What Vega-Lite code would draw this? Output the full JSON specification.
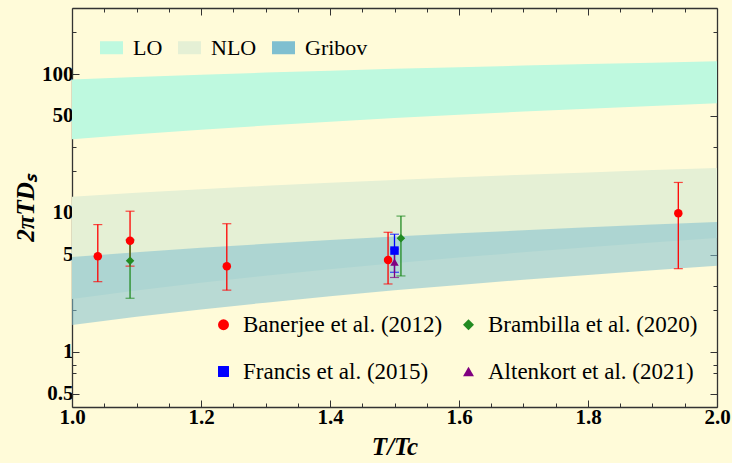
{
  "$schema": "https://vega.github.io/schema/vega-lite/v6.json",
  "width": 645,
  "height": 399,
  "autosize": {"type": "none"},
  "padding": {"left": 72, "top": 8, "right": 15, "bottom": 56},
  "background": "#fffbd9",
  "config": {
    "view": {"stroke": null},
    "font": "Liberation Serif",
    "legend": {"labelFont": "Liberation Serif", "labelColor": "#000", "labelLimit": 400}
  },
  "datasets": {
    "bands": [
      {"band": "LO", "T": 1.0, "lo": 34.0, "hi": 91.6},
      {"band": "LO", "T": 1.1, "lo": 36.9, "hi": 95.5},
      {"band": "LO", "T": 1.2, "lo": 39.8, "hi": 99.2},
      {"band": "LO", "T": 1.3, "lo": 42.7, "hi": 102.7},
      {"band": "LO", "T": 1.4, "lo": 45.5, "hi": 106.1},
      {"band": "LO", "T": 1.5, "lo": 48.3, "hi": 109.3},
      {"band": "LO", "T": 1.6, "lo": 51.0, "hi": 112.4},
      {"band": "LO", "T": 1.7, "lo": 53.8, "hi": 115.4},
      {"band": "LO", "T": 1.8, "lo": 56.4, "hi": 118.4},
      {"band": "LO", "T": 1.9, "lo": 59.1, "hi": 121.2},
      {"band": "LO", "T": 2.0, "lo": 61.8, "hi": 123.9},
      {"band": "NLO", "T": 1.0, "lo": 2.40, "hi": 13.1},
      {"band": "NLO", "T": 1.1, "lo": 2.76, "hi": 14.0},
      {"band": "NLO", "T": 1.2, "lo": 3.14, "hi": 14.8},
      {"band": "NLO", "T": 1.3, "lo": 3.53, "hi": 15.7},
      {"band": "NLO", "T": 1.4, "lo": 3.93, "hi": 16.5},
      {"band": "NLO", "T": 1.5, "lo": 4.34, "hi": 17.3},
      {"band": "NLO", "T": 1.6, "lo": 4.77, "hi": 18.1},
      {"band": "NLO", "T": 1.7, "lo": 5.21, "hi": 18.9},
      {"band": "NLO", "T": 1.8, "lo": 5.67, "hi": 19.6},
      {"band": "NLO", "T": 1.9, "lo": 6.13, "hi": 20.4},
      {"band": "NLO", "T": 2.0, "lo": 6.61, "hi": 21.1},
      {"band": "Gribov", "T": 1.0, "lo": 1.56, "hi": 4.82},
      {"band": "Gribov", "T": 1.1, "lo": 1.79, "hi": 5.22},
      {"band": "Gribov", "T": 1.2, "lo": 2.02, "hi": 5.61},
      {"band": "Gribov", "T": 1.3, "lo": 2.26, "hi": 6.00},
      {"band": "Gribov", "T": 1.4, "lo": 2.51, "hi": 6.39},
      {"band": "Gribov", "T": 1.5, "lo": 2.77, "hi": 6.77},
      {"band": "Gribov", "T": 1.6, "lo": 3.03, "hi": 7.14},
      {"band": "Gribov", "T": 1.7, "lo": 3.31, "hi": 7.51},
      {"band": "Gribov", "T": 1.8, "lo": 3.58, "hi": 7.88},
      {"band": "Gribov", "T": 1.9, "lo": 3.87, "hi": 8.25},
      {"band": "Gribov", "T": 2.0, "lo": 4.16, "hi": 8.61}
    ],
    "points": [
      {"study": "Banerjee et al. (2012)", "T": 1.04, "D": 4.87, "lo": 3.2, "hi": 8.25},
      {"study": "Banerjee et al. (2012)", "T": 1.09, "D": 6.32, "lo": 4.14, "hi": 10.3},
      {"study": "Banerjee et al. (2012)", "T": 1.24, "D": 4.14, "lo": 2.78, "hi": 8.37},
      {"study": "Banerjee et al. (2012)", "T": 1.49, "D": 4.59, "lo": 3.08, "hi": 7.26},
      {"study": "Banerjee et al. (2012)", "T": 1.94, "D": 9.95, "lo": 3.97, "hi": 16.6},
      {"study": "Brambilla et al. (2020)", "T": 1.09, "D": 4.52, "lo": 2.43, "hi": 6.4},
      {"study": "Brambilla et al. (2020)", "T": 1.51, "D": 6.57, "lo": 3.52, "hi": 9.5},
      {"study": "Francis et al. (2015)", "T": 1.50, "D": 5.36, "lo": 3.74, "hi": 7.03},
      {"study": "Altenkort et al. (2021)", "T": 1.50, "D": 4.43, "lo": 3.43, "hi": 5.5}
    ]
  },
  "resolve": {"axis": {"x": "independent", "y": "independent"}},
  "layer": [
    {
      "data": {"name": "bands"},
      "mark": {"type": "area", "strokeWidth": 0},
      "encoding": {
        "x": {
          "field": "T", "type": "quantitative",
          "scale": {"domain": [1, 2], "nice": false, "zero": false},
          "axis": {
            "orient": "bottom",
            "values": [1, 1.05, 1.1, 1.15, 1.2, 1.25, 1.3, 1.35, 1.4, 1.45, 1.5, 1.55, 1.6, 1.65, 1.7, 1.75, 1.8, 1.85, 1.9, 1.95, 2],
            "labelExpr": "abs(datum.value*5-round(datum.value*5))<0.001 ? format(datum.value,'.1f') : ''",
            "tickSize": {"condition": {"test": "abs(datum.value*5-round(datum.value*5))<0.001", "value": -7}, "value": -4},
            "labelFont": "Liberation Serif", "labelFontWeight": "bold", "labelFontSize": 21, "labelColor": "#000",
            "labelPadding": 6, "labelFlush": false, "labelOverlap": false,
            "domainColor": "#333", "domainWidth": 1.3, "tickColor": "#333", "tickWidth": 1, "grid": false,
            "title": "T/Tc", "titleFont": "Liberation Serif", "titleFontStyle": "italic", "titleFontWeight": "bold",
            "titleFontSize": 25, "titleColor": "#000", "titlePadding": 4
          }
        },
        "y": {
          "field": "lo", "type": "quantitative",
          "scale": {"type": "log", "domain": [0.4, 300], "nice": false},
          "axis": {
            "orient": "left",
            "values": [0.5, 0.7, 0.8, 1, 2, 3, 5, 7, 8, 10, 20, 30, 50, 70, 80, 100, 200],
            "labelExpr": "indexof([0.5,1,5,10,50,100], datum.value) >= 0 ? '' + datum.value : ''",
            "tickSize": {"condition": {"test": "indexof([0.5,1,5,10,50,100], datum.value) >= 0", "value": -7}, "value": -4},
            "labelFont": "Liberation Serif", "labelFontWeight": "bold", "labelFontSize": 21, "labelColor": "#000",
            "labelPadding": 6, "labelOverlap": false, "labelFlush": false,
            "domainColor": "#333", "domainWidth": 1.3, "tickColor": "#333", "tickWidth": 1, "grid": false,
            "title": "2πTDₛ", "titleFont": "Liberation Serif", "titleFontStyle": "italic", "titleFontWeight": "bold",
            "titleFontSize": 25, "titleColor": "#000", "titlePadding": 3
          }
        },
        "y2": {"field": "hi"},
        "fill": {
          "field": "band", "type": "nominal",
          "scale": {"domain": ["LO", "NLO", "Gribov"], "range": ["#bef9df", "#e5f0d5", "#7fbfd0"]},
          "legend": {
            "orient": "none", "legendX": 28, "legendY": 28, "direction": "horizontal", "title": null,
            "symbolType": "M-1,-0.565H1V0.565H-1Z", "symbolSize": 529, "symbolStrokeWidth": 0, "symbolOpacity": 1,
            "labelFont": "Liberation Serif", "labelFontSize": 22, "labelColor": "#000", "labelOffset": 10,
            "columnPadding": 15, "padding": 0
          }
        },
        "opacity": {"condition": {"test": "datum.band === 'Gribov'", "value": 0.55}, "value": 1}
      }
    },
    {
      "data": {"name": "points"},
      "mark": {"type": "errorbar", "ticks": {"size": 9, "thickness": 1.2}, "thickness": 1.3},
      "encoding": {
        "x": {"field": "T", "type": "quantitative", "axis": null},
        "y": {"field": "lo", "type": "quantitative", "axis": null},
        "y2": {"field": "hi"},
        "color": {
          "field": "study", "type": "nominal",
          "scale": {"domain": ["Banerjee et al. (2012)", "Francis et al. (2015)", "Brambilla et al. (2020)", "Altenkort et al. (2021)"], "range": ["#ff0000", "#0000ff", "#228b22", "#800080"]},
          "legend": {
            "orient": "none", "legendX": 140, "legendY": 305, "columns": 2, "title": null,
            "labelFont": "Liberation Serif", "labelFontSize": 23, "labelColor": "#000", "labelOffset": 8, "labelLimit": 400,
            "symbolSize": 120, "symbolStrokeWidth": 0, "symbolOpacity": 1,
            "columnPadding": 14, "rowPadding": 23, "padding": 0
          }
        }
      }
    },
    {
      "data": {"name": "points"},
      "mark": {"type": "point", "filled": true, "opacity": 1, "size": 72},
      "encoding": {
        "x": {
          "field": "T", "type": "quantitative",
          "axis": {
            "orient": "top",
            "values": [1, 1.05, 1.1, 1.15, 1.2, 1.25, 1.3, 1.35, 1.4, 1.45, 1.5, 1.55, 1.6, 1.65, 1.7, 1.75, 1.8, 1.85, 1.9, 1.95, 2],
            "labels": false,
            "tickSize": {"condition": {"test": "abs(datum.value*5-round(datum.value*5))<0.001", "value": -7}, "value": -4},
            "domainColor": "#333", "domainWidth": 1.3, "tickColor": "#333", "tickWidth": 1, "grid": false, "title": null
          }
        },
        "y": {
          "field": "D", "type": "quantitative",
          "axis": {
            "orient": "right",
            "values": [0.5, 0.7, 0.8, 1, 2, 3, 5, 7, 8, 10, 20, 30, 50, 70, 80, 100, 200],
            "labels": false,
            "tickSize": {"condition": {"test": "indexof([0.5,1,5,10,50,100], datum.value) >= 0", "value": -7}, "value": -4},
            "domainColor": "#333", "domainWidth": 1.3, "tickColor": "#333", "tickWidth": 1, "grid": false, "title": null
          }
        },
        "color": {
          "field": "study", "type": "nominal",
          "legend": {
            "orient": "none", "legendX": 140, "legendY": 305, "columns": 2, "title": null,
            "labelFont": "Liberation Serif", "labelFontSize": 23, "labelColor": "#000", "labelOffset": 8, "labelLimit": 400,
            "symbolSize": 120, "symbolStrokeWidth": 0, "symbolOpacity": 1,
            "columnPadding": 14, "rowPadding": 23, "padding": 0
          }
        },
        "shape": {
          "field": "study", "type": "nominal",
          "scale": {"domain": ["Banerjee et al. (2012)", "Francis et al. (2015)", "Brambilla et al. (2020)", "Altenkort et al. (2021)"], "range": ["circle", "square", "diamond", "triangle-up"]}
        }
      }
    }
  ]
}
